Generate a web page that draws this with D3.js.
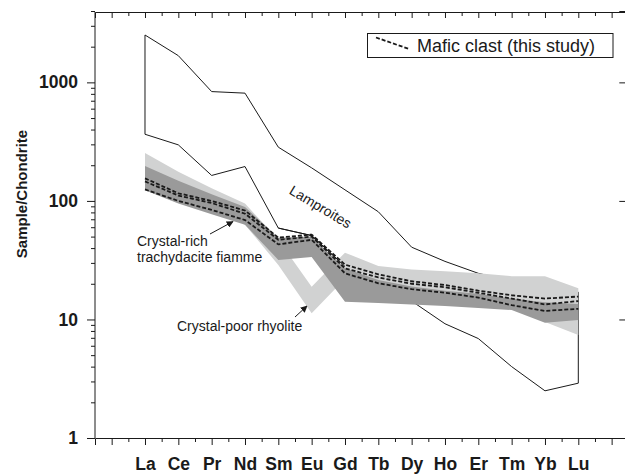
<!DOCTYPE html>
<html>
<head>
<meta charset="utf-8">
<script src="https://cdn.jsdelivr.net/npm/d3@7"></script>
<style>
  html, body { margin: 0; padding: 0; background: #fff; }
  svg { display: block; font-family: "Liberation Sans", Arial, Helvetica, sans-serif; }
</style>
</head>
<body>
<svg id="chart" width="625" height="475"></svg>
<script>
// Rare earth elements, chondrite-normalised
const elements = ["La", "Ce", "Pr", "Nd", "Sm", "Eu", "Gd", "Tb", "Dy", "Ho", "Er", "Tm", "Yb", "Lu"];

// Lamproite field (outline)
const lamproiteUpper = [2510, 1680, 836, 811, 284, 190, 124, 81, 40.7, 30.9, 24.5, 21, 20, 17];
const lamproiteLower = [365, 297, 164, 195, 59, 51, 28, 20, 14.3, 9.2, 6.9, 4.0, 2.5, 2.9];

// Crystal-poor rhyolite field (light grey)
const rhyoliteUpper = [254, 176, 128, 95, 47, 18.9, 36.6, 28.3, 26.4, 25.5, 24.5, 23.2, 23.2, 18.3];
const rhyoliteLower = [130, 104, 86, 63, 28.8, 11.3, 22, 18, 16.5, 15.5, 14.5, 13.5, 9.5, 7.4];

// Crystal-rich trachydacite fiamme field (dark grey)
const fiammeUpper = [197, 148, 114, 89, 49, 50, 27, 21.5, 19, 17.5, 16.5, 15, 14, 13.5];
const fiammeLower = [123, 95, 77, 63, 31.8, 33.7, 14.1, 13.8, 13.4, 13.0, 12.5, 12.0, 9.4, 9.9];

// Mafic clast samples (this study)
const maficA = [155, 116, 100, 83, 49, 52, 29, 24, 21, 19.5, 17.5, 16, 15, 15.6];
const maficB = [146, 111, 96, 78, 47, 50, 27, 22.6, 20, 18.7, 16.8, 15, 13.4, 14.3];
const maficC = [125, 100, 84, 69, 43, 47, 24.5, 20.2, 18, 16.8, 15.3, 13.2, 11.8, 12.3];

const yTickValues = [1, 10, 100, 1000];
const yTickLabels = ["1", "10", "100", "1000"];

const svg = d3.select("#chart");
const ink = "#1a1a1a";

const x = d3.scaleLinear().domain([-1.5, 14.5]).range([95, 628.3]);
const y = d3.scaleLog().domain([1, 4000]).range([438, 11]);

const idx = elements.map((_, i) => i);

// Lamproite outline, split so the lower edge can be redrawn over the fields
const lampPoly = idx.map(i => [x(i), y(lamproiteUpper[i])])
  .concat(idx.slice().reverse().map(i => [x(i), y(lamproiteLower[i])]));
svg.append("path")
  .attr("d", d3.line()(lampPoly) + "Z")
  .attr("fill", "none")
  .attr("stroke", ink)
  .attr("stroke-width", 1);

// Shaded fields
function band(upper, lower) {
  return d3.area()
    .x(i => x(i))
    .y0(i => y(lower[i]))
    .y1(i => y(upper[i]))(idx);
}
svg.append("path").attr("d", band(rhyoliteUpper, rhyoliteLower)).attr("fill", "#d1d2d2");
svg.append("path").attr("d", band(fiammeUpper, fiammeLower)).attr("fill", "#9a9a9a");

// Lamproite lower edge where it runs along the top of the fiamme field (Sm–Gd)
svg.append("path")
  .attr("d", d3.line().x(i => x(i)).y(i => y(lamproiteLower[i]))([4, 5, 6]))
  .attr("fill", "none").attr("stroke", ink).attr("stroke-width", 1);

// Mafic clast profiles
const profile = d3.line().x((d, i) => x(i)).y(d => y(d));
[maficA, maficB, maficC].forEach(s => {
  svg.append("path")
    .attr("d", profile(s))
    .attr("fill", "none")
    .attr("stroke", ink)
    .attr("stroke-width", 1.8)
    .attr("stroke-dasharray", "4,2");
});

// Axes
const majorX = d3.range(-1, 15);
const minorX = d3.range(-0.5, 14.5, 1);
const minorY = [];
[1, 10, 100, 1000].forEach(d => { for (let k = 2; k <= 9; k++) if (d * k <= 4000) minorY.push(d * k); });

function styleAxis(g) {
  g.selectAll("path.domain").attr("stroke", ink).attr("stroke-width", 1);
  g.selectAll(".tick line").attr("stroke", ink).attr("stroke-width", 1);
}

// bottom
svg.append("g").attr("transform", "translate(0,438)")
  .call(d3.axisBottom(x).tickValues(majorX).tickSize(7).tickPadding(13)
    .tickFormat(i => (i >= 0 && i < elements.length) ? elements[i] : ""))
  .call(styleAxis)
  .call(g => g.selectAll("text").attr("font-size", 17.5).attr("font-weight", "bold")
    .attr("fill", ink).attr("font-family", null));
svg.append("g").attr("transform", "translate(0,438)")
  .call(d3.axisBottom(x).tickValues(minorX).tickSize(4).tickFormat(""))
  .call(styleAxis).call(g => g.select("path.domain").remove());

// top
svg.append("g").attr("transform", "translate(0,12)")
  .call(d3.axisBottom(x).tickValues(majorX).tickSize(6).tickFormat(""))
  .call(styleAxis);
svg.append("g").attr("transform", "translate(0,12)")
  .call(d3.axisBottom(x).tickValues(minorX).tickSize(4).tickFormat(""))
  .call(styleAxis).call(g => g.select("path.domain").remove());

// left
svg.append("g").attr("transform", "translate(95,0)")
  .call(d3.axisLeft(y).tickValues(yTickValues).tickSize(8).tickPadding(9)
    .tickFormat((d, i) => yTickLabels[i]))
  .call(styleAxis)
  .call(g => g.select("path.domain").attr("d", "M0,12V438"))
  .call(g => g.selectAll("text").attr("font-size", 17.5).attr("font-weight", "bold")
    .attr("fill", ink).attr("font-family", null));
svg.append("g").attr("transform", "translate(95,0)")
  .call(d3.axisLeft(y).tickValues(minorY).tickSize(4).tickFormat(""))
  .call(styleAxis).call(g => g.select("path.domain").remove());

// right (inward ticks)
svg.append("g").attr("transform", "translate(628.3,0)")
  .call(d3.axisRight(y).tickValues(yTickValues).tickSize(-9).tickFormat(""))
  .call(styleAxis);

// Axis title
svg.append("text")
  .attr("transform", "translate(27,194) rotate(-90)")
  .attr("text-anchor", "middle")
  .attr("font-size", 15).attr("font-weight", "bold").attr("fill", ink)
  .text("Sample/Chondrite");

// Arrow marker
svg.append("defs").append("marker")
  .attr("id", "arrow").attr("viewBox", "0 0 10 10")
  .attr("refX", 9).attr("refY", 5)
  .attr("markerWidth", 7).attr("markerHeight", 7)
  .attr("markerUnits", "userSpaceOnUse")
  .attr("orient", "auto")
  .append("path").attr("d", "M0,0L10,5L0,10Z").attr("fill", ink);

// Field labels
const label = (tx, ty, txt) => svg.append("text")
  .attr("x", tx).attr("y", ty)
  .attr("font-size", 14).attr("fill", ink).text(txt);

svg.append("text")
  .attr("transform", "translate(318,211) rotate(31)")
  .attr("text-anchor", "middle")
  .attr("font-size", 14).attr("fill", ink)
  .text("Lamproites");

label(137, 245.5, "Crystal-rich");
label(137, 261.5, "trachydacite fiamme");
svg.append("line")
  .attr("x1", 210).attr("y1", 234).attr("x2", 233).attr("y2", 221.5)
  .attr("stroke", ink).attr("stroke-width", 1).attr("marker-end", "url(#arrow)");

label(177, 331, "Crystal-poor rhyolite");
svg.append("line")
  .attr("x1", 295).attr("y1", 317).attr("x2", 307).attr("y2", 306)
  .attr("stroke", ink).attr("stroke-width", 1).attr("marker-end", "url(#arrow)");

// Legend
const lg = svg.append("g");
lg.append("rect")
  .attr("x", 367.5).attr("y", 33.5).attr("width", 245.5).attr("height", 24)
  .attr("fill", "#fff").attr("stroke", ink).attr("stroke-width", 1);
lg.append("line")
  .attr("x1", 376).attr("y1", 37.5).attr("x2", 409).attr("y2", 49)
  .attr("stroke", ink).attr("stroke-width", 1.8).attr("stroke-dasharray", "4,2");
lg.append("text")
  .attr("x", 417).attr("y", 51.5)
  .attr("font-size", 18).attr("fill", ink)
  .text("Mafic clast (this study)");
</script>
</body>
</html>
